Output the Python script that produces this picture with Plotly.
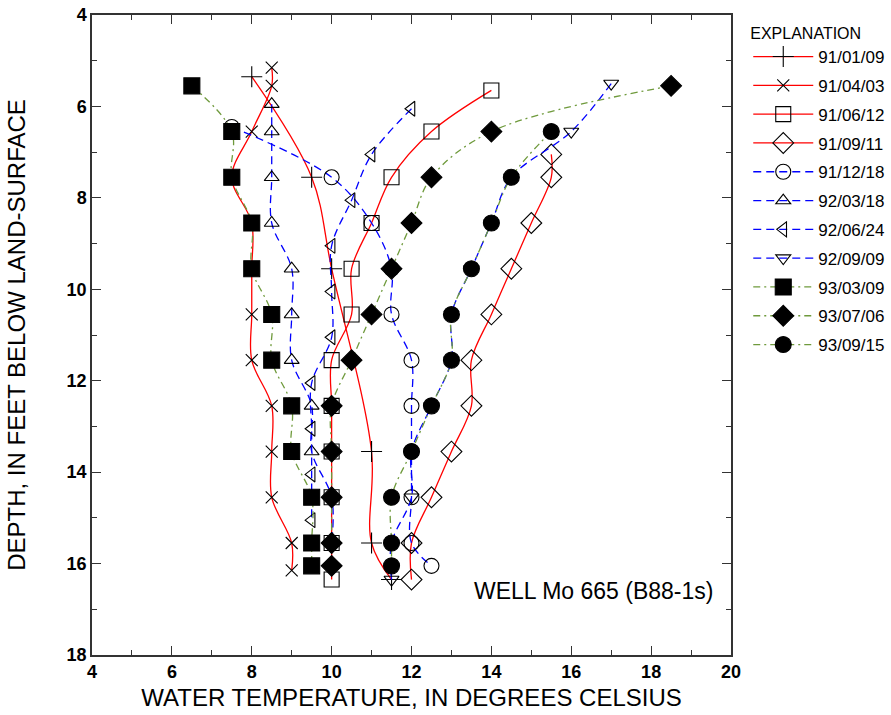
import plotly.graph_objects as go

# ---- data (temperature in deg C, depth in feet) ----
t_910109 = [8, 9.5, 10, 11, 11, 11.5]
d_910109 = [5.35, 7.55, 9.55, 13.55, 15.55, 16.35]

t_910403 = [8.5, 8.5, 8, 7.5, 8, 8, 8, 8, 8.5, 8.5, 8.5, 9, 9]
d_910403 = [5.15, 5.55, 6.55, 7.55, 8.55, 9.55, 10.55, 11.55, 12.55, 13.55, 14.55, 15.55, 16.15]

t_910612 = [14, 12.5, 11.5, 11, 10.5, 10.5, 10, 10, 10, 10, 10, 10]
d_910612 = [5.65, 6.55, 7.55, 8.55, 9.55, 10.55, 11.55, 12.55, 13.55, 14.55, 15.55, 16.35]

t_910911 = [15.5, 15.5, 15, 14.5, 14, 13.5, 13.5, 13, 12.5, 12, 12]
d_910911 = [7.05, 7.55, 8.55, 9.55, 10.55, 11.55, 12.55, 13.55, 14.55, 15.55, 16.35]

t_911218 = [7.5, 10, 11, 11.5, 11.5, 12, 12, 12, 12, 12, 12.5]
d_911218 = [6.45, 7.55, 8.55, 9.55, 10.55, 11.55, 12.55, 13.55, 14.55, 15.55, 16.05]

t_920318 = [8.5, 8.5, 8.5, 8.5, 9, 9, 9, 9.5, 9.5, 10, 10]
d_920318 = [5.95, 6.55, 7.55, 8.55, 9.55, 10.55, 11.55, 12.55, 13.55, 14.55, 15.55]

t_920624 = [12, 11, 10.5, 10, 10, 10, 9.5, 9.5, 9.5, 9.5]
d_920624 = [6.05, 7.05, 8.05, 9.05, 10.05, 11.05, 12.05, 13.05, 14.05, 15.05]

t_920909 = [17, 16, 14.5, 14, 13.5, 13, 13, 12.5, 12, 12, 11.5, 11.5]
d_920909 = [5.5, 6.55, 7.55, 8.55, 9.55, 10.55, 11.55, 12.55, 13.55, 14.55, 15.55, 16.35]

t_930309 = [6.5, 7.5, 7.5, 8, 8, 8.5, 8.5, 9, 9, 9.5, 9.5, 9.5]
d_930309 = [5.55, 6.55, 7.55, 8.55, 9.55, 10.55, 11.55, 12.55, 13.55, 14.55, 15.55, 16.05]

t_930706 = [18.5, 14, 12.5, 12, 11.5, 11, 10.5, 10, 10, 10, 10, 10]
d_930706 = [5.55, 6.55, 7.55, 8.55, 9.55, 10.55, 11.55, 12.55, 13.55, 14.55, 15.55, 16.05]

t_930915 = [15.5, 14.5, 14, 13.5, 13, 13, 12.5, 12, 11.5, 11.5, 11.5]
d_930915 = [6.55, 7.55, 8.55, 9.55, 10.55, 11.55, 12.55, 13.55, 14.55, 15.55, 16.05]

x_ticks = [4, 6, 8, 10, 12, 14, 16, 18, 20]
y_ticks = [4, 6, 8, 10, 12, 14, 16, 18]

RED = "#ff0000"
BLUE = "#0000ff"
GREEN = "#6f9a3c"

series = [
    ("91/01/09", t_910109, d_910109, "cross-thin-open", 15, RED, "solid"),
    ("91/04/03", t_910403, d_910403, "x-thin-open", 12, RED, "solid"),
    ("91/06/12", t_910612, d_910612, "square-open", 15, RED, "solid"),
    ("91/09/11", t_910911, d_910911, "diamond-open", 16, RED, "solid"),
    ("91/12/18", t_911218, d_911218, "circle-open", 15, BLUE, "8px,5px"),
    ("92/03/18", t_920318, d_920318, "triangle-up-open", 13, BLUE, "8px,5px"),
    ("92/06/24", t_920624, d_920624, "triangle-left-open", 13, BLUE, "8px,5px"),
    ("92/09/09", t_920909, d_920909, "triangle-down-open", 13, BLUE, "8px,5px"),
    ("93/03/09", t_930309, d_930309, "square", 16, GREEN, "7px,4px,2px,4px"),
    ("93/07/06", t_930706, d_930706, "diamond", 16, GREEN, "7px,4px,2px,4px"),
    ("93/09/15", t_930915, d_930915, "circle", 16, GREEN, "7px,4px,2px,4px"),
]

fig = go.Figure()
for i, (name, t, d, sym, sz, col, dash) in enumerate(series):
    fig.add_trace(go.Scatter(
        x=t, y=d, name=name, mode="lines+markers",
        legendgroup=f"g{i}",
        line=dict(color=col, width=1.3, dash=dash, shape="spline", smoothing=1.0),
        marker=dict(symbol=sym, size=sz, color="black",
                    line=dict(color="black", width=1.1)),
    ))

FONT = "Liberation Sans, Arial, sans-serif"
axis_font = dict(family=FONT, size=18, color="black", weight="bold")
common = dict(
    ticks="inside", ticklen=9, tickwidth=1.2, tickcolor="#333",
    showline=True, linecolor="#333", linewidth=1.5, mirror="allticks",
    showgrid=False, zeroline=False, tickfont=axis_font, automargin=False,
    minor=dict(ticks="inside", dtick=1, ticklen=5, tickcolor="#333", showgrid=False),
)
fig.update_xaxes(
    range=[4, 20], tickvals=x_ticks, **common,
    title=dict(text="WATER TEMPERATURE, IN DEGREES CELSIUS",
               font=dict(family=FONT, size=24, color="black"), standoff=8),
)
fig.update_yaxes(
    range=[18, 4], tickvals=y_ticks, **common,
    title=dict(text="DEPTH, IN FEET BELOW LAND-SURFACE",
               font=dict(family=FONT, size=24, color="black"), standoff=34),
)

fig.add_annotation(x=19.6, y=16.6, xref="x", yref="y", text="WELL Mo 665 (B88-1s)",
                   showarrow=False, xanchor="right", yanchor="middle",
                   font=dict(family=FONT, size=23, color="black"))

fig.update_layout(
    width=891, height=715,
    margin=dict(l=92, r=160, t=15, b=60, autoexpand=False),
    paper_bgcolor="white", plot_bgcolor="white",
    font=dict(family=FONT, color="black"),
    legend=dict(
        title=dict(text="EXPLANATION", font=dict(family=FONT, size=16, color="black")),
        x=1.027, y=0.995, xanchor="left", yanchor="top",
        font=dict(family=FONT, size=17, color="black"),
        tracegroupgap=3.7, traceorder="grouped",
        itemwidth=60, bgcolor="rgba(0,0,0,0)",
    ),
    showlegend=True,
)

fig.write_html("out.html",
               config={"displayModeBar": False},
               post_script="document.body.style.margin='0';document.body.style.overflow='hidden';")
